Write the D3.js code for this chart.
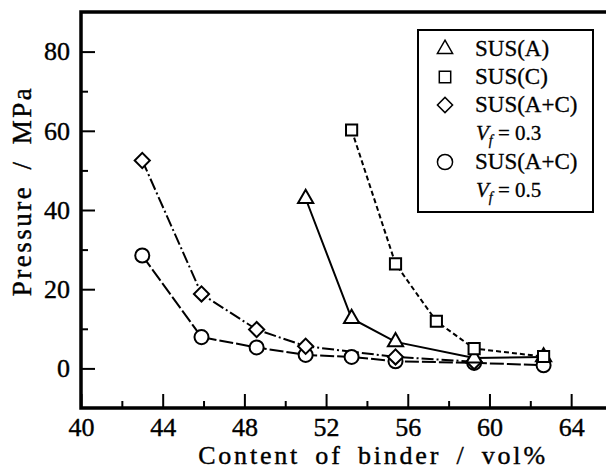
<!DOCTYPE html>
<html>
<head>
<meta charset="utf-8">
<script src="https://cdn.jsdelivr.net/npm/d3@7"></script>
<style>
  body { margin: 0; background: #fff; }
</style>
</head>
<body>
<script>
// values
const binderA = [51.0, 53.25, 55.4, 59.25, 62.65];
const susA    = [42.9, 12.6, 6.7, 2.6, 2.9];

const binderC = [53.25, 55.4, 57.4, 59.25, 62.65];
const susC    = [60.2, 26.4, 11.9, 5.0, 3.0];

const binderAC3 = [43.0, 45.9, 48.6, 51.0, 55.4, 59.25];
const susAC3    = [52.5, 18.8, 9.8, 5.6, 2.9, 1.7];

const binderAC5 = [43.0, 45.9, 48.6, 51.0, 53.25, 55.4, 59.25, 62.65];
const susAC5    = [28.5, 7.9, 5.3, 3.4, 2.9, 1.8, 1.4, 0.8];

const xTicks = [40, 44, 48, 52, 56, 60, 64];
const xMinor = [42, 46, 50, 54, 58, 62];
const yTicks = [0, 20, 40, 60, 80];
const yMinor = [10, 30, 50, 70];

const serif = "Liberation Serif, Times New Roman, serif";

function init() {
  const svg = d3.select("body").append("svg")
    .attr("width", 606)
    .attr("height", 470)
    .attr("font-family", serif);

  const x = d3.scaleLinear().domain([40, 66]).range([81, 612]);
  const y = d3.scaleLinear().domain([-10, 90]).range([408, 12]);

  // ticks, pointing inward
  svg.append("g")
    .attr("transform", "translate(0,408)")
    .call(d3.axisBottom(x).tickValues(xTicks).tickSize(-14).tickPadding(10).tickFormat(d3.format("d")));
  svg.append("g")
    .attr("transform", "translate(0,408)")
    .call(d3.axisBottom(x).tickValues(xMinor).tickSize(-7).tickFormat(""));

  svg.append("g")
    .attr("transform", "translate(81,0)")
    .call(d3.axisLeft(y).tickValues(yTicks).tickSize(-14).tickPadding(11).tickFormat(d3.format("d")));
  svg.append("g")
    .attr("transform", "translate(81,0)")
    .call(d3.axisLeft(y).tickValues(yMinor).tickSize(-7).tickFormat(""));

  svg.selectAll("g").attr("font-family", serif).attr("font-size", 26);
  svg.selectAll(".domain").remove();
  svg.selectAll(".tick line").attr("stroke", "#000").attr("stroke-width", 2);
  svg.selectAll(".tick text").attr("fill", "#000").attr("stroke", "#000").attr("stroke-width", 0.4);

  // frame (left, top, bottom; right side is off the picture)
  svg.append("path")
    .attr("d", "M 612 " + y(90) + " H " + x(40) + " V " + y(-10) + " H 612")
    .attr("stroke", "black")
    .attr("stroke-width", 3.5)
    .attr("fill", "none");

  // axis titles
  svg.append("text")
    .attr("x", 373)
    .attr("y", 464)
    .attr("text-anchor", "middle")
    .attr("font-size", 26)
    .attr("letter-spacing", 2.8)
    .attr("word-spacing", 6)
    .attr("stroke", "#000").attr("stroke-width", 0.4)
    .text("Content of binder / vol%");

  svg.append("text")
    .attr("transform", "translate(31,191) rotate(-90)")
    .attr("text-anchor", "middle")
    .attr("font-size", 27)
    .attr("letter-spacing", 2.5)
    .attr("word-spacing", 6)
    .attr("stroke", "#000").attr("stroke-width", 0.4)
    .text("Pressure / MPa");

  const series = [
    { xs: binderAC5, ys: susAC5, dash: "14,3", sym: d3.symbolCircle, size: 155, rot: 0 },
    { xs: binderAC3, ys: susAC3, dash: "12,3,2,3", sym: d3.symbolSquare, size: 115, rot: 45 },
    { xs: binderA, ys: susA, dash: null, sym: d3.symbolTriangle, size: 100, rot: 0 },
    { xs: binderC, ys: susC, dash: "5,3", sym: d3.symbolSquare, size: 125, rot: 0 }
  ];

  const line = d3.line().x(d => x(d[0])).y(d => y(d[1]));

  series.forEach(s => {
    const pts = s.xs.map((v, i) => [v, s.ys[i]]);
    svg.append("path")
      .datum(pts)
      .attr("d", line)
      .attr("stroke", "black")
      .attr("stroke-width", 2)
      .attr("stroke-dasharray", s.dash)
      .attr("fill", "none");
  });

  series.forEach(s => {
    const pts = s.xs.map((v, i) => [v, s.ys[i]]);
    svg.append("g").selectAll("path")
      .data(pts)
      .join("path")
      .attr("transform", d => "translate(" + x(d[0]) + "," + y(d[1]) + ") rotate(" + s.rot + ")")
      .attr("d", d3.symbol().type(s.sym).size(s.size))
      .attr("stroke", "black")
      .attr("stroke-width", 2)
      .attr("fill", "white");
  });

  // legend
  const legend = svg.append("g");
  legend.append("rect")
    .attr("x", 418).attr("y", 30)
    .attr("width", 175).attr("height", 182)
    .attr("fill", "white")
    .attr("stroke", "black")
    .attr("stroke-width", 2);

  const legendItems = [
    { sym: d3.symbolTriangle, size: 100, rot: 0, label: "SUS(A)", base: 56 },
    { sym: d3.symbolSquare, size: 130, rot: 0, label: "SUS(C)", base: 84 },
    { sym: d3.symbolSquare, size: 115, rot: 45, label: "SUS(A+C)", base: 112, vf: "0.3" },
    { sym: d3.symbolCircle, size: 180, rot: 0, label: "SUS(A+C)", base: 169, vf: "0.5" }
  ];

  legendItems.forEach(it => {
    legend.append("path")
      .attr("transform", "translate(445," + (it.base - 7) + ") rotate(" + it.rot + ")")
      .attr("d", d3.symbol().type(it.sym).size(it.size))
      .attr("stroke", "black")
      .attr("stroke-width", 1.5)
      .attr("fill", "white");
    legend.append("text")
      .attr("x", 475).attr("y", it.base)
      .attr("font-size", 23)
      .attr("stroke", "#000").attr("stroke-width", 0.3)
      .text(it.label);
    if (it.vf) {
      const t = legend.append("text")
        .attr("x", 476).attr("y", it.base + 28)
        .attr("font-size", 21)
        .attr("stroke", "#000").attr("stroke-width", 0.3);
      t.append("tspan").attr("font-style", "italic").text("V");
      t.append("tspan").attr("font-style", "italic").attr("font-size", 14).attr("dy", 5).text("f");
      t.append("tspan").attr("dy", -5).text(" = " + it.vf);
    }
  });
}

init();
</script>
</body>
</html>
